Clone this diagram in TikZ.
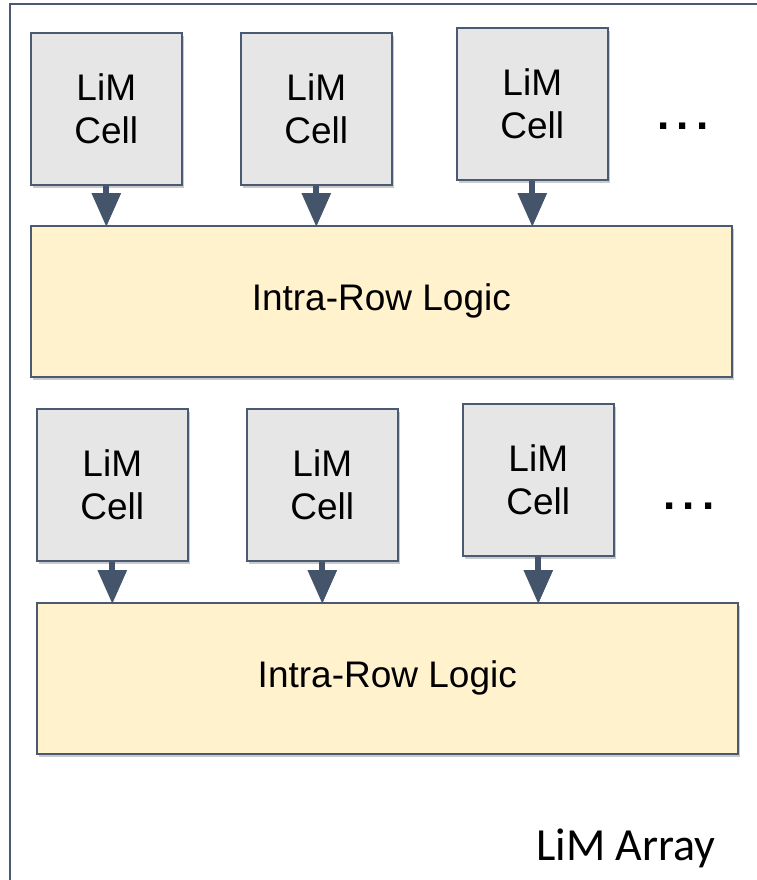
\documentclass[tikz,border=0pt]{standalone}
\usepackage{fontspec}
\setmainfont{Liberation Sans}
\newfontfamily\carlito{Carlito}
\usetikzlibrary{arrows.meta,shadows}
\definecolor{edgecol}{HTML}{4A5A72}
\definecolor{cellfill}{HTML}{E6E6E6}
\definecolor{logicfill}{HTML}{FFF2CC}
\definecolor{arrowcol}{HTML}{44546A}
\newcommand{\mydots}{.\hspace{7pt}.\hspace{7pt}.}
\tikzset{
  box/.style={draw=edgecol, line width=1.6pt, inner sep=0pt, anchor=north west,
    drop shadow={shadow xshift=2pt, shadow yshift=-3pt, opacity=0.35, fill=black!60}},
  cellbox/.style={box, fill=cellfill, minimum width=151pt, minimum height=152pt,
    align=center, font=\fontsize{37}{43}\selectfont},
  logicbox/.style={box, fill=logicfill, minimum width=701pt, minimum height=151pt,
    font=\fontsize{37}{43}\selectfont},
  feed/.style={draw=arrowcol, line width=6pt, -{Triangle[width=28pt,length=34pt]}, shorten >=-2pt},
  dots/.style={inner sep=0pt, font=\bfseries\fontsize{44}{50}\selectfont}
}
\begin{document}
\begin{tikzpicture}[x=1pt,y=-1pt]
\useasboundingbox (0,0) rectangle (756,880);
% outer frame
\draw[edgecol, line width=2pt] (10,884) -- (10,4) -- (760,4);
% row 1
\node[cellbox] (c11) at (30,32) {LiM\\Cell};
\node[cellbox] (c12) at (240,32) {LiM\\Cell};
\node[cellbox] (c13) at (456,27) {LiM\\Cell};
\node[dots] (d1) at (683,126) {\mydots};
\node[logicbox] (l1) at (30,225) {Intra-Row Logic};
\draw[feed] (c11.south) -- (c11.south |- l1.north);
\draw[feed] (c12.south) -- (c12.south |- l1.north);
\draw[feed] (c13.south) -- (c13.south |- l1.north);
% row 2
\node[cellbox] (c21) at (36,408) {LiM\\Cell};
\node[cellbox] (c22) at (246,408) {LiM\\Cell};
\node[cellbox] (c23) at (462,403) {LiM\\Cell};
\node[dots] (d2) at (689,506) {\mydots};
\node[logicbox] (l2) at (36,602) {Intra-Row Logic};
\draw[feed] (c21.south) -- (c21.south |- l2.north);
\draw[feed] (c22.south) -- (c22.south |- l2.north);
\draw[feed] (c23.south) -- (c23.south |- l2.north);
% label
\node[font=\carlito\fontsize{46}{50}\selectfont] (lbl) at (626,848) {LiM Array};
\end{tikzpicture}
\end{document}
